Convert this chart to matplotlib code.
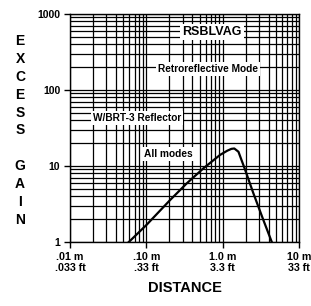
import numpy as np
import matplotlib.pyplot as plt
from matplotlib.ticker import FixedLocator, NullFormatter

# curve (distance in m, excess gain)
distance = [0.059, 0.1, 0.205, 0.338, 0.558, 0.925, 1.15, 1.3, 1.42, 1.61, 1.97, 2.52, 3.41, 4.4]
gain = [1.0, 1.67, 3.57, 5.9, 9.3, 14.0, 15.9, 16.8, 17.0, 15.4, 8.9, 4.4, 1.95, 1.0]

x_ticks = [0.01, 0.1, 1.0, 10.0]
x_labels = ['.01 m\n.033 ft', '.10 m\n.33 ft', '1.0 m\n3.3 ft', '10 m\n33 ft']
y_ticks = [1, 10, 100, 1000]
y_labels = ['1', '10', '100', '1000']

plt.rcParams['font.family'] = ['Liberation Sans Narrow', 'Liberation Sans', 'DejaVu Sans']
plt.rcParams['font.weight'] = 'bold'

fig = plt.figure(figsize=(3.11, 3.06), dpi=100)
ax = fig.add_axes([70/311, 64/306, 229/311, 228/306])

ax.plot(distance, gain, color='black', lw=1.6, zorder=3)
ax.set_xscale('log')
ax.set_yscale('log')
ax.set_xlim(0.01, 10)
ax.set_ylim(1, 1000)

ax.grid(which='both', color='black', lw=0.9)
ax.set_axisbelow(True)

ax.set_xticks(x_ticks)
ax.set_xticklabels(x_labels, fontsize=7.7, fontweight='bold', linespacing=1.1)
ax.set_yticks(y_ticks)
ax.set_yticklabels(y_labels, fontsize=7.5, fontweight='bold')
ax.xaxis.set_minor_formatter(NullFormatter())
ax.yaxis.set_minor_formatter(NullFormatter())
ax.tick_params(which='major', length=4, width=1, direction='out', pad=3)
ax.tick_params(which='minor', length=0)
for s in ax.spines.values():
    s.set_linewidth(1)

ax.set_xlabel('DISTANCE', fontsize=10.5, fontweight='bold', labelpad=6)

box = dict(facecolor='white', edgecolor='none', pad=1.5)
ax.text(0.619, 0.921, 'RSBLVAG', transform=ax.transAxes, ha='center', va='center',
        fontsize=9, fontweight='bold', bbox=box, zorder=4)
ax.text(0.603, 0.759, 'Retroreflective Mode', transform=ax.transAxes, ha='center', va='center',
        fontsize=7.3, fontweight='bold', bbox=box, zorder=4)
ax.text(0.293, 0.544, 'W/BRT-3 Reflector', transform=ax.transAxes, ha='center', va='center',
        fontsize=7.3, fontweight='bold', bbox=box, zorder=4)
ax.text(0.428, 0.386, 'All modes', transform=ax.transAxes, ha='center', va='center',
        fontsize=7.3, fontweight='bold', bbox=box, zorder=4)

fig.text(20/311, 1 - 130.5/306, 'E\nX\nC\nE\nS\nS\n\nG\nA\nI\nN', ha='center', va='center',
         fontsize=10, fontweight='bold', linespacing=1.36)

fig.savefig('out.png', dpi=100)
